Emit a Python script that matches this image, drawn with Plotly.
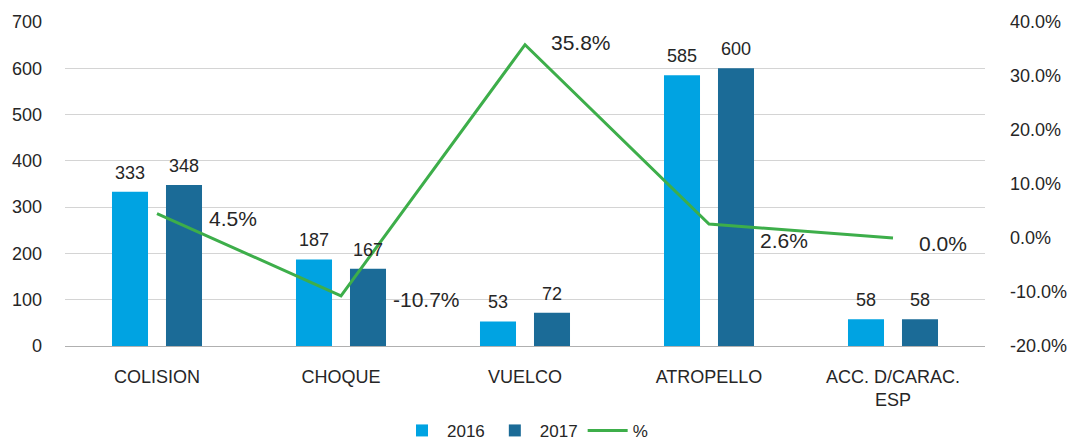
import plotly.graph_objects as go

categories = ["COLISION", "CHOQUE", "VUELCO", "ATROPELLO", "ACC. D/CARAC.<br>ESP"]
values_2016 = [333, 187, 53, 585, 58]
values_2017 = [348, 167, 72, 600, 58]
pct_change = [4.5, -10.7, 35.8, 2.6, 0.0]
left_ticks = [0, 100, 200, 300, 400, 500, 600, 700]
right_ticks = [-20, -10, 0, 10, 20, 30, 40]

C16 = "#00a3e2"
C17 = "#1b6b97"
CG = "#3dae4a"
TXT = "#262626"
FONT = "Liberation Sans, Arial, Helvetica, sans-serif"

fig = go.Figure()
fig.add_trace(go.Bar(name="2016", x=categories, y=values_2016, marker_color=C16,
                     marker_line_width=0))
fig.add_trace(go.Bar(name="2017", x=categories, y=values_2017, marker_color=C17,
                     marker_line_width=0))
fig.add_trace(go.Scatter(name="%", x=categories, y=pct_change, yaxis="y2",
                         mode="lines", line=dict(color=CG, width=3)))

annotations = []
n = len(categories)
for i in range(n):
    for v, dx in ((values_2016[i], -0.147), (values_2017[i], 0.147)):
        annotations.append(dict(x=i + dx, y=v, xref="x", yref="y", text=str(v),
                                showarrow=False, yanchor="bottom", yshift=7,
                                font=dict(size=18, color=TXT, family=FONT)))
xshifts = [50, 50, 24, 49, 24]
yshifts = [-5, -4, 2, -17, -5]
for i in range(n):
    annotations.append(dict(x=i, y=pct_change[i], xref="x", yref="y2",
                            text=f"{pct_change[i]:.1f}%", showarrow=False,
                            xanchor="left", xshift=xshifts[i], yshift=yshifts[i],
                            font=dict(size=21, color=TXT, family=FONT)))

fig.update_layout(
    width=1067, height=443,
    margin=dict(l=65, r=82, t=22, b=97, autoexpand=False),
    paper_bgcolor="white", plot_bgcolor="white",
    barmode="group", bargap=0.413, bargroupgap=0.333,
    font=dict(family=FONT, size=18, color=TXT),
    xaxis=dict(type="category", showgrid=False, showline=False, ticks="",
               automargin=False, ticklabelstandoff=18,
               tickfont=dict(size=18, color=TXT), range=[-0.5, 4.5]),
    yaxis=dict(range=[0, 700], tickvals=left_ticks, showgrid=True,
               gridcolor="#d4d4d4", gridwidth=1, zeroline=True,
               zerolinecolor="#b0b0b0", zerolinewidth=1, automargin=False,
               showline=False, ticks="", ticklabelstandoff=22,
               tickfont=dict(size=18, color=TXT)),
    yaxis2=dict(range=[-20, 40], tickvals=right_ticks,
                ticktext=[f"{t:.1f}%" for t in right_ticks],
                overlaying="y", side="right", showgrid=False, zeroline=False,
                showline=False, ticks="", ticklabelstandoff=24, automargin=False,
                tickfont=dict(size=18, color=TXT)),
    legend=dict(orientation="h", x=0.5, xanchor="center", y=-0.262,
                yanchor="middle", font=dict(size=17, color=TXT),
                itemwidth=40, traceorder="normal"),
    annotations=annotations,
)

fig.write_html("out.html", config={"displayModeBar": False},
               post_script="document.body.style.margin='0';document.body.style.overflow='hidden';")
